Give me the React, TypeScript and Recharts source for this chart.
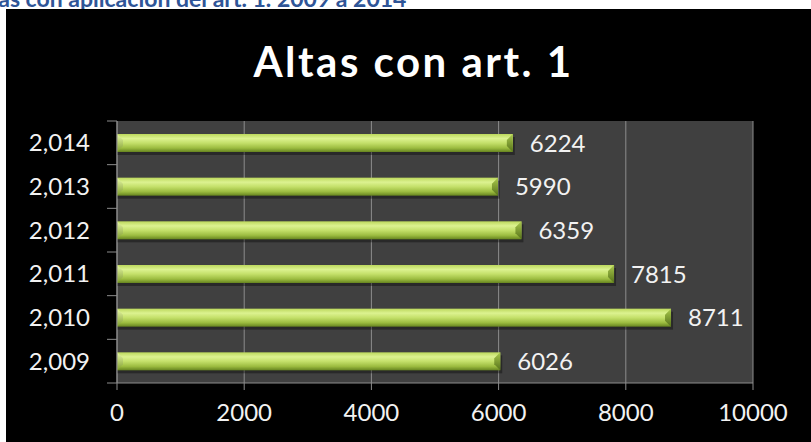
import { Bar, BarChart, CartesianGrid, LabelList, XAxis, YAxis } from "recharts";

const YEARS = [2009, 2010, 2011, 2012, 2013, 2014];
const ALTAS = [6026, 8711, 7815, 6359, 5990, 6224];
const X_TICKS = [0, 2000, 4000, 6000, 8000, 10000];

const CHART_W = 805;
const CHART_H = 433;
const MARGIN = { top: 112, right: 58, bottom: 0, left: 0 };
const X_AXIS_H = 59;
const PLOT_H = CHART_H - MARGIN.top - MARGIN.bottom - X_AXIS_H;
const AXIS_GRAY = "#8c8c8c";
const FONT = "Lato, 'Open Sans', sans-serif";

const data = YEARS.map((year, i) => ({ year, value: ALTAS[i] }));

/** Year label plus Excel-style tick marks on the category boundaries. */
function YearTick(props: any) {
  const { x, y, payload, index } = props;
  const half = PLOT_H / YEARS.length / 2;
  const ax = x + 27;
  return (
    <g>
      <text x={x} y={y} dy="0.36em" textAnchor="end" fill="#f2f2f2" fontSize={24} fontFamily={FONT}>
        {Number(payload.value).toLocaleString("en-US")}
      </text>
      <line x1={ax - 10} x2={ax} y1={y - half} y2={y - half} stroke={AXIS_GRAY} />
      {index === 0 && <line x1={ax - 10} x2={ax} y1={y + half} y2={y + half} stroke={AXIS_GRAY} />}
    </g>
  );
}

/** Bevelled green bar, roughly like the Office 2007 preset. */
function BevelBar(props: any) {
  const { x, y, width, height } = props;
  if (!width || width <= 0) return null;
  const b = 6;
  return (
    <g>
      <rect x={x} y={y + 3} width={width + 2} height={height} fill="rgba(0,0,0,0.35)" />
      <rect x={x} y={y} width={width} height={height} fill="url(#barGrad)" />
      <polygon
        points={`${x},${y} ${x + b},${y + b} ${x + b},${y + height - b} ${x},${y + height}`}
        fill="url(#bevelLeft)"
      />
      <polygon
        points={`${x + width - b},${y + b} ${x + width},${y} ${x + width},${y + height} ${x + width - b},${y + height - b}`}
        fill="url(#bevelRight)"
      />
    </g>
  );
}

export default function App() {
  return (
    <div
      style={{
        position: "fixed",
        left: 0,
        top: 0,
        width: 811,
        height: 442,
        background: "#fff",
        overflow: "hidden",
        fontFamily: FONT,
      }}
    >
      <div
        style={{
          position: "absolute",
          left: -32,
          top: -13,
          fontSize: 23,
          lineHeight: "23px",
          fontWeight: 700,
          color: "#2f5597",
          whiteSpace: "nowrap",
        }}
      >
        Altas con aplicación del art. 1. 2009 a 2014
      </div>
      <div style={{ position: "absolute", left: 6, top: 9, width: CHART_W, height: CHART_H, background: "#000" }}>
        <div
          style={{
            position: "absolute",
            left: 5,
            top: 31,
            width: CHART_W,
            textAlign: "center",
            color: "#fff",
            fontSize: 42,
            lineHeight: "42px",
            letterSpacing: 2.5,
            fontWeight: 700,
          }}
        >
          Altas con art. 1
        </div>
        <BarChart
          width={CHART_W}
          height={CHART_H}
          data={data}
          layout="vertical"
          margin={MARGIN}
          barSize={18}
        >
          <defs>
            <linearGradient id="barGrad" x1="0" y1="0" x2="0" y2="1">
              <stop offset="0%" stopColor="#bcd85c" />
              <stop offset="25%" stopColor="#dcf290" />
              <stop offset="50%" stopColor="#c4e06a" />
              <stop offset="78%" stopColor="#9cbc40" />
              <stop offset="100%" stopColor="#66841f" />
            </linearGradient>
            <linearGradient id="bevelLeft" x1="0" y1="0" x2="0" y2="1">
              <stop offset="0%" stopColor="#e8f8a8" />
              <stop offset="100%" stopColor="#7f9e2c" />
            </linearGradient>
            <linearGradient id="bevelRight" x1="0" y1="0" x2="0" y2="1">
              <stop offset="0%" stopColor="#a9c84c" />
              <stop offset="100%" stopColor="#56721a" />
            </linearGradient>
          </defs>
          <CartesianGrid horizontal={false} stroke={AXIS_GRAY} fill="#404040" fillOpacity={1} />
          <XAxis
            type="number"
            domain={[0, 10000]}
            ticks={X_TICKS}
            height={X_AXIS_H}
            stroke={AXIS_GRAY}
            tickSize={7}
            tickMargin={14}
            tick={{ fill: "#f2f2f2", fontSize: 24, fontFamily: FONT }}
          />
          <YAxis
            type="category"
            dataKey="year"
            reversed
            width={111}
            stroke={AXIS_GRAY}
            tickLine={false}
            tickSize={10}
            tickMargin={17}
            tick={<YearTick />}
            interval={0}
          />
          <Bar dataKey="value" shape={<BevelBar />} isAnimationActive={false}>
            <LabelList
              dataKey="value"
              position="right"
              offset={17}
              fill="#f2f2f2"
              fontSize={24}
              fontFamily={FONT}
            />
          </Bar>
        </BarChart>
      </div>
    </div>
  );
}
